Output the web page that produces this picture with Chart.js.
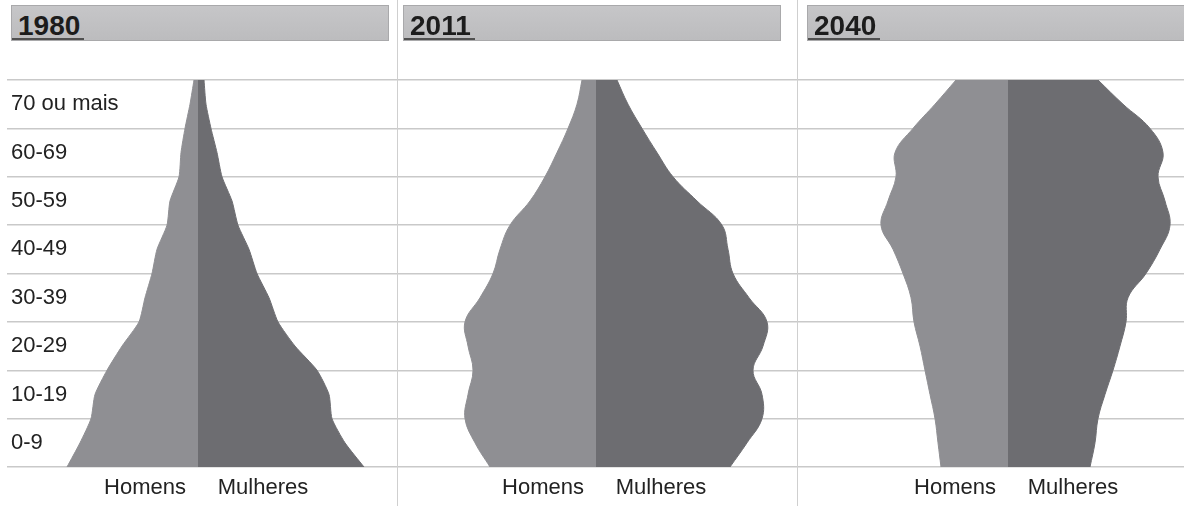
<!DOCTYPE html>
<html>
<head>
<meta charset="utf-8">
<script src="https://cdn.jsdelivr.net/npm/chart.js@4.4.1/dist/chart.umd.min.js"></script>
<style>
  body { margin: 0; background: #fff; font-family: "Liberation Sans", Arial, sans-serif; }
  #wrap { position: relative; width: 1184px; height: 506px; overflow: hidden; }
  canvas { position: absolute; top: 0; }
  .bar { position: absolute; top: 5px; height: 34px; border: 1px solid #a9a9ab;
         background: linear-gradient(#c6c6c8, #bcbcbe); overflow: hidden; }
  .bar span { display: inline-block; height: 34px; line-height: 40px; padding: 0 4px 0 6px;
              font-weight: bold; font-size: 28px; color: #1c1c1c; box-shadow: inset 0 -2px 0 #505050; }
  .sep { position: absolute; top: 0; width: 1px; height: 506px; background: #cfcfcf; }
</style>
</head>
<body>
<div id="wrap">
  <canvas id="c1980" width="397" height="506" style="left:0"></canvas>
  <canvas id="c2011" width="400" height="506" style="left:397px"></canvas>
  <canvas id="c2040" width="387" height="506" style="left:797px"></canvas>
  <div class="sep" style="left:397px"></div>
  <div class="sep" style="left:797px"></div>
  <div class="bar" style="left:11px; width:376px"><span id="t0"></span></div>
  <div class="bar" style="left:403px; width:376px"><span id="t1"></span></div>
  <div class="bar" style="left:807px; width:400px"><span id="t2"></span></div>
</div>
<script>
// idade (eixo vertical) e faixas etarias
const ages = [0, 5, 10, 15, 20, 25, 30, 35, 40, 45, 50, 55, 60, 65, 70, 75, 80];
const ageGroups = ['0-9', '10-19', '20-29', '30-39', '40-49', '50-59', '60-69', '70 ou mais'];
const sexes = ['Homens', 'Mulheres'];
const years = ['1980', '2011', '2040'];

// % da populacao em cada idade (borda da piramide)
const homens1980 = [13.1, 11.8, 10.7, 10.3, 9.1, 7.6, 5.9, 5.3, 4.6, 4.1, 3.1, 2.8, 1.9, 1.7, 1.3, 0.8, 0.4];
const mulheres1980 = [16.6, 14.7, 13.4, 13.1, 11.9, 9.7, 8.0, 7.1, 5.9, 5.1, 4.0, 3.4, 2.4, 1.9, 1.3, 0.8, 0.6];
const homens2011 = [10.6, 12.1, 13.1, 12.8, 12.3, 12.8, 13.1, 11.6, 10.3, 9.6, 8.6, 6.6, 5.1, 3.9, 2.8, 1.9, 1.4];
const mulheres2011 = [13.4, 15.1, 16.6, 16.6, 15.7, 16.7, 17.1, 15.3, 13.7, 13.2, 12.6, 10.1, 7.7, 6.1, 4.6, 3.2, 2.1];
const homens2040 = [6.7, 7.0, 7.3, 7.8, 8.3, 8.8, 9.4, 9.7, 10.5, 11.5, 12.7, 12.0, 11.2, 11.3, 9.5, 7.3, 5.2];
const mulheres2040 = [8.2, 8.7, 9.0, 9.7, 10.5, 11.2, 11.8, 12.0, 13.8, 15.2, 16.2, 15.7, 15.0, 15.5, 14.2, 11.5, 9.0];

const font = { family: '"Liberation Sans", Arial, sans-serif', size: 22 };
const menColor = '#8f8f93';
const womenColor = '#6d6d71';

function pyramid(id, men, women, xMin, xMax, tension, showLabels, padLeft) {
  return new Chart(document.getElementById(id), {
    type: 'line',
    data: {
      datasets: [
        { label: sexes[0], data: ages.map((a, i) => ({ x: -men[i], y: a })),
          backgroundColor: menColor, borderColor: menColor, fill: 'origin' },
        { label: sexes[1], data: ages.map((a, i) => ({ x: women[i], y: a })),
          backgroundColor: womenColor, borderColor: womenColor, fill: 'origin' }
      ]
    },
    options: {
      indexAxis: 'y',
      responsive: false,
      animation: false,
      layout: { padding: { top: 80, left: padLeft, right: 0, bottom: 0 } },
      plugins: { legend: { display: false }, tooltip: { enabled: false } },
      elements: { point: { radius: 0 }, line: { tension: tension, borderWidth: 1 } },
      scales: {
        x: {
          type: 'linear', min: xMin, max: xMax,
          grid: { display: false }, border: { display: false },
          afterFit: s => { s.height = 39; },
          afterBuildTicks: s => { s.ticks = [{ value: -5.3 }, { value: 6.5 }]; },
          ticks: { callback: v => v < 0 ? sexes[0] : sexes[1], font: font, color: '#222',
                   padding: 0, maxRotation: 0, autoSkip: false }
        },
        y: {
          type: 'linear', min: 0, max: 80, z: 1,
          afterFit: s => { s.width = 0; },
          border: { display: false },
          grid: { drawTicks: false, lineWidth: 1.5,
                  color: c => (c.tick && c.tick.value % 10 === 0) ? '#c9c9c9' : 'rgba(0,0,0,0)' },
          ticks: { stepSize: 5, mirror: true, padding: 4, display: showLabels, autoSkip: false,
                   color: '#222', font: font,
                   callback: v => v % 10 === 5 ? ageGroups[(v - 5) / 10] : '' }
        }
      }
    }
  });
}

years.forEach((y, i) => { document.getElementById('t' + i).textContent = y; });

pyramid('c1980', homens1980, mulheres1980, -19.1, 19.9, 0.2, true, 7);
pyramid('c2011', homens2011, mulheres2011, -19.9, 20.1, 0.4, false, 0);
pyramid('c2040', homens2040, mulheres2040, -21.1, 17.6, 0.4, false, 0);
</script>
</body>
</html>
